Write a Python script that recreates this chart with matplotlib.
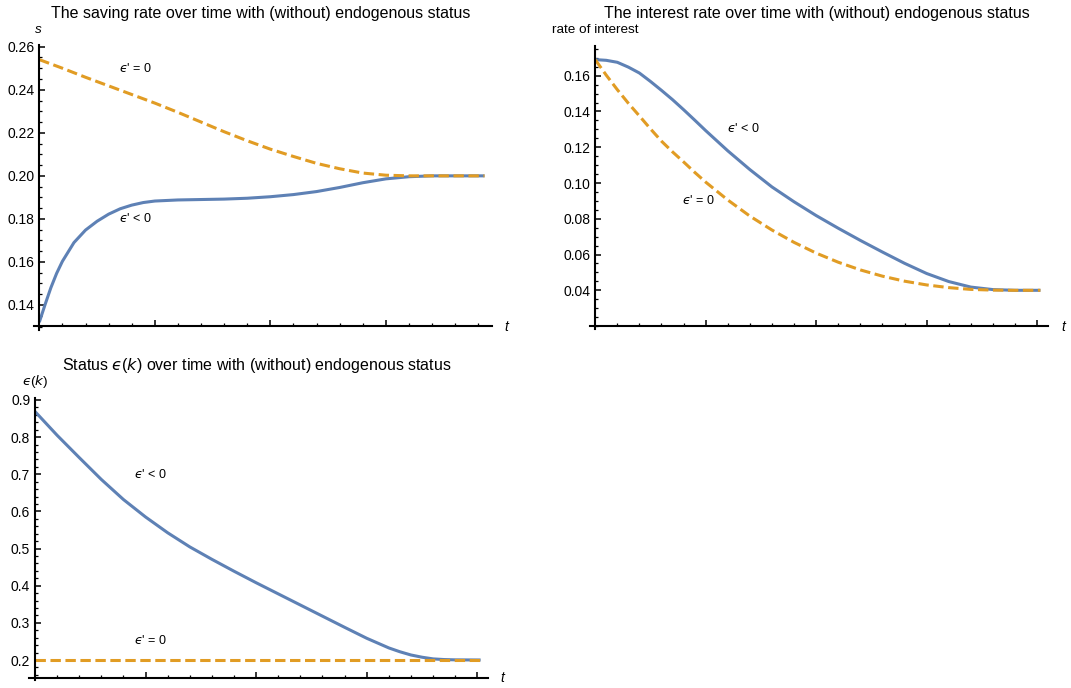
import matplotlib
matplotlib.use('Agg')
import matplotlib.pyplot as plt
from matplotlib.ticker import MultipleLocator, FixedLocator, FormatStrFormatter

W, H = 1071, 688
plt.rcParams['font.family'] = ['Liberation Sans', 'DejaVu Sans']
plt.rcParams['mathtext.fontset'] = 'custom'
plt.rcParams['mathtext.rm'] = 'Liberation Sans'
plt.rcParams['mathtext.it'] = 'DejaVu Sans:italic'

BLUE = '#5E81B5'
ORANGE = '#E19C24'

# ---------------- data ----------------
# Panel 1: saving rate
t_s_blue = [0, 0.25, 0.5, 0.75, 1, 1.5, 2, 2.5, 3, 3.5, 4, 4.5, 5, 6, 7, 8, 9, 10,
            11, 12, 13, 14, 15, 16, 17, 18, 19.27]
s_blue = [0.1320, 0.1402, 0.1480, 0.1547, 0.1603, 0.1690, 0.1748, 0.1789,
          0.1822, 0.1847, 0.1864, 0.1876, 0.1883, 0.1888, 0.1890, 0.1892, 0.1896,
          0.1903, 0.1913, 0.1927, 0.1946, 0.1968, 0.1986, 0.1996, 0.2000,
          0.2000, 0.2000]
t_s_orange = [0, 1, 2, 3, 4, 5, 6, 7, 8, 9, 10, 11, 12, 13, 14, 15, 16, 19.27]
s_orange = [0.2540, 0.2500, 0.2458, 0.2418, 0.2378, 0.2338, 0.2295, 0.2250,
            0.2205, 0.2163, 0.2124, 0.2090, 0.2058, 0.2033, 0.2013, 0.2003,
            0.2000, 0.2000]

# Panel 2: interest rate
t_r = [0, 0.5, 1, 1.5, 2, 2.5, 3, 3.5, 4, 4.5, 5, 6, 7, 8, 9, 10, 11, 12, 13,
       14, 15, 16, 17, 18, 19, 20.15]
r_blue = [0.1690, 0.1686, 0.1675, 0.1648, 0.1615, 0.1568, 0.1518, 0.1466,
          0.1410, 0.1352, 0.1293, 0.1180, 0.1075, 0.0978, 0.0895, 0.0818,
          0.0747, 0.0679, 0.0614, 0.0551, 0.0494, 0.0449, 0.0418, 0.0404,
          0.0400, 0.0400]
r_orange = [0.1690, 0.1603, 0.1522, 0.1446, 0.1375, 0.1303, 0.1234, 0.1174,
            0.1118, 0.1060, 0.1005, 0.0905, 0.0815, 0.0737, 0.0668, 0.0608,
            0.0557, 0.0514, 0.0479, 0.0451, 0.0430, 0.0415, 0.0405, 0.0401,
            0.0400, 0.0400]

# Panel 3: status
t_e = [0, 1, 2, 3, 4, 5, 6, 7, 8, 9, 10, 11, 12, 13, 14, 15, 16, 16.5, 17,
       17.5, 18, 18.5, 19, 20.15]
e_blue = [0.869, 0.805, 0.745, 0.686, 0.632, 0.585, 0.5425, 0.5045, 0.471,
          0.439, 0.408, 0.378, 0.348, 0.318, 0.288, 0.2585, 0.2325, 0.2222,
          0.2135, 0.2075, 0.2030, 0.2012, 0.2004, 0.2000]
t_e_orange = [0, 20.15]
e_orange = [0.2, 0.2]

s_ticks = [0.14, 0.16, 0.18, 0.20, 0.22, 0.24, 0.26]
r_ticks = [0.04, 0.06, 0.08, 0.10, 0.12, 0.14, 0.16]
e_ticks = [0.2, 0.3, 0.4, 0.5, 0.6, 0.7, 0.8, 0.9]

titles = ["The saving rate over time with (without) endogenous status",
          "The interest rate over time with (without) endogenous status",
          "Status $\u03f5$($k$) over time with (without) endogenous status"]
lab_neg = "$\u03f5$' < 0"
lab_zero = "$\u03f5$' = 0"

# ---------------- figure ----------------
fig = plt.figure(figsize=(W / 100, H / 100), dpi=100)


def fx(px):
    return px / W


def fy(py):
    return 1 - py / H


def make_axes(xcal, ycal, xlim, ylim, ybase, ytop):
    (xa, pxa), (xb, pxb) = xcal
    (ya, pya), (yb, pyb) = ycal
    sx = (pxb - pxa) / (xb - xa)
    sy = (pyb - pya) / (yb - ya)
    left = pxa + (xlim[0] - xa) * sx
    right = pxa + (xlim[1] - xa) * sx
    top = pya + (ylim[1] - ya) * sy
    bottom = pya + (ylim[0] - ya) * sy
    ax = fig.add_axes([left / W, 1 - bottom / H, (right - left) / W, (bottom - top) / H])
    ax.set_xlim(xlim)
    ax.set_ylim(ylim)
    ax.patch.set_alpha(0)
    for s in ['top', 'right']:
        ax.spines[s].set_visible(False)
    ax.spines['left'].set_position(('data', 0))
    ax.spines['bottom'].set_position(('data', ybase))
    ax.spines['left'].set_bounds(ylim[0], ytop)
    for s in ['left', 'bottom']:
        ax.spines[s].set_linewidth(1.5)
    ax.xaxis.set_major_locator(MultipleLocator(5))
    ax.xaxis.set_minor_locator(MultipleLocator(1))
    ax.tick_params(axis='x', which='both', direction='in', labelbottom=False)
    ax.tick_params(axis='both', which='major', direction='in', length=4.2, width=1.1)
    ax.tick_params(axis='both', which='minor', direction='in', length=2.4, width=0.9)
    ax.tick_params(axis='y', which='major', labelsize=10, pad=3.5)
    return ax


lw = 2.2
dash = (3.4, 1.5)

# Panel 1
ax1 = make_axes(((0, 39.3), (19, 478.3)), ((0.26, 46.7), (0.14, 305.0)),
                (-0.25, 19.58), (0.1282, 0.2612), 0.1302, 0.2608)
ax1.yaxis.set_major_locator(FixedLocator(s_ticks))
ax1.yaxis.set_minor_locator(MultipleLocator(0.005))
ax1.yaxis.set_major_formatter(FormatStrFormatter('%.2f'))
ax1.plot(t_s_blue, s_blue, color=BLUE, lw=lw, solid_capstyle='butt', solid_joinstyle='round')
ax1.plot(t_s_orange, s_orange, color=ORANGE, lw=lw, dashes=dash)

# Panel 2
ax2 = make_axes(((0, 595.2), (20, 1037.1)), ((0.16, 75.7), (0.04, 290.3)),
                (-0.25, 20.49), (0.0182, 0.1768), 0.0200, 0.1764)
ax2.yaxis.set_major_locator(FixedLocator(r_ticks))
ax2.yaxis.set_minor_locator(MultipleLocator(0.005))
ax2.yaxis.set_major_formatter(FormatStrFormatter('%.2f'))
ax2.plot(t_r, r_blue, color=BLUE, lw=lw, solid_capstyle='butt', solid_joinstyle='round')
ax2.plot(t_r, r_orange, color=ORANGE, lw=lw, dashes=dash)

# Panel 3
ax3 = make_axes(((0, 35.0), (20, 477.3)), ((0.9, 400.0), (0.2, 660.0)),
                (-0.25, 20.5), (0.146, 0.906), 0.1515, 0.905)
ax3.yaxis.set_major_locator(FixedLocator(e_ticks))
ax3.yaxis.set_minor_locator(MultipleLocator(0.02))
ax3.yaxis.set_major_formatter(FormatStrFormatter('%.1f'))
ax3.plot(t_e, e_blue, color=BLUE, lw=lw, solid_capstyle='butt', solid_joinstyle='round')
ax3.plot(t_e_orange, e_orange, color=ORANGE, lw=lw, dashes=dash)

# Titles
fig.text(fx(260.8), fy(13.3), titles[0], ha='center', va='center', fontsize=11.5)
fig.text(fx(816.8), fy(13.3), titles[1], ha='center', va='center', fontsize=11.5)
fig.text(fx(256.5), fy(365.7), titles[2], ha='center', va='center', fontsize=11.5)

# Axis labels
fig.text(fx(38.6), fy(30), 's', ha='center', va='center', fontsize=9.7, style='italic')
fig.text(fx(552), fy(30), 'rate of interest', ha='left', va='center', fontsize=9.7)
fig.text(fx(35), fy(382), "$\u03f5$($k$)", ha='center', va='center', fontsize=9.7)
for (px, py) in [(506.7, 327), (1063, 327), (502.7, 678)]:
    fig.text(fx(px), fy(py), 't', ha='center', va='center', fontsize=10, style='italic')

# Curve annotations
for (px, py, s) in [(119, 68, lab_zero), (119, 219, lab_neg),
                    (727, 129, lab_neg), (682, 201, lab_zero),
                    (133.6, 474, lab_neg), (133.6, 641, lab_zero)]:
    fig.text(fx(px), fy(py), s, ha='left', va='center', fontsize=9)

fig.savefig('out.png', dpi=100)
